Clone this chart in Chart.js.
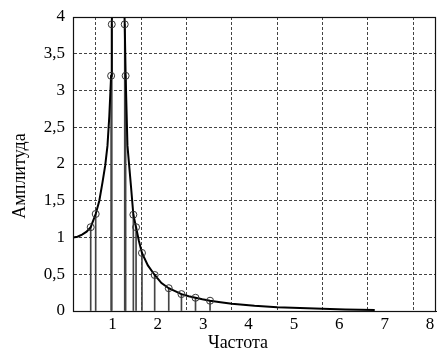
<!DOCTYPE html>
<html>
<head>
<meta charset="utf-8">
<script src="https://cdn.jsdelivr.net/npm/chart.js@4"></script>
<style>
html, body { margin: 0; padding: 0; background: #fff; }
</style>
</head>
<body>
<canvas id="grafico" width="441" height="355"></canvas>
<script>
// Curva de amplitude
const curvaX = [0, 0.1, 0.2, 0.3, 0.39, 0.5, 0.58, 0.65, 0.71, 0.76, 0.8, 0.84, 0.855, 0.9, 1.0, 1.1, 1.14, 1.16, 1.2, 1.28, 1.33, 1.39, 1.45, 1.52, 1.65, 1.8, 1.95, 2.11, 2.25, 2.39, 2.55, 2.7, 2.85, 3.02, 3.25, 3.5, 3.75, 4.0, 4.5, 5.0, 5.5, 6.0, 6.65];
const curvaY = [1.0, 1.01, 1.04, 1.08, 1.14, 1.32, 1.5, 1.75, 1.98, 2.25, 2.65, 3.2, 3.9, 5.2, 9.0, 4.9, 3.9, 3.2, 2.25, 1.68, 1.31, 1.14, 0.96, 0.79, 0.62, 0.49, 0.38, 0.31, 0.27, 0.23, 0.2, 0.18, 0.16, 0.14, 0.12, 0.1, 0.085, 0.07, 0.05, 0.04, 0.03, 0.02, 0.015];

// Hastes com marcadores circulares
const hasteX = [0.39, 0.5, 0.84, 0.855, 1.14, 1.16, 1.33, 1.39, 1.52, 1.8, 2.11, 2.39, 2.7, 3.02];
const hasteY = [1.14, 1.32, 3.2, 3.9, 3.9, 3.2, 1.31, 1.14, 0.79, 0.49, 0.31, 0.23, 0.18, 0.14];

// Rótulos dos eixos
const rotulosX = ['', '1', '2', '3', '4', '5', '6', '7', '8'];
const rotulosY = ['0', '0,5', '1', '1,5', '2', '2,5', '3', '3,5', '4'];
const tituloX = 'Частота';
const tituloY = 'Амплитуда';

const fonte = "'Liberation Serif', 'Times New Roman', serif";

const curva = curvaX.map((x, i) => ({ x: x, y: curvaY[i] }));
const hastes = hasteX.map((x, i) => ({ x: x, y: hasteY[i] }));

// Moldura em volta da área do gráfico
const moldura = {
    id: 'moldura',
    afterDraw(chart) {
        const { ctx, chartArea: a } = chart;
        ctx.save();
        ctx.strokeStyle = '#111';
        ctx.lineWidth = 1.2;
        ctx.strokeRect(Math.round(a.left) + 0.5, Math.round(a.top) + 0.5,
            Math.round(a.right - a.left) - 1, Math.round(a.bottom - a.top));
        ctx.restore();
    }
};

// Títulos dos eixos, na posição do original
const titulos = {
    id: 'titulos',
    afterDraw(chart) {
        const ctx = chart.ctx;
        ctx.save();
        ctx.fillStyle = '#000';
        ctx.font = '18px ' + fonte;
        ctx.textAlign = 'center';
        ctx.textBaseline = 'middle';
        ctx.fillText(tituloX, 238, 343);
        ctx.translate(20, 176);
        ctx.rotate(-Math.PI / 2);
        ctx.fillText(tituloY, 0, 0);
        ctx.restore();
    }
};

const ctx = document.getElementById('grafico').getContext('2d');
new Chart(ctx, {
    data: {
        datasets: [
            {
                type: 'scatter',
                label: 'Marcadores',
                data: hastes,
                pointStyle: 'circle',
                pointRadius: 3.5,
                borderColor: '#333',
                backgroundColor: 'rgba(0,0,0,0)',
                borderWidth: 1,
                order: 0,
            },
            {
                type: 'line',
                label: 'Амплитуда',
                data: curva,
                borderColor: '#000',
                borderWidth: 2,
                pointRadius: 0,
                tension: 0,
                fill: false,
                order: 1,
            },
            {
                type: 'bar',
                label: 'Hastes',
                data: hastes,
                backgroundColor: '#444',
                barThickness: 1,
                grouped: false,
                order: 2,
            },
        ],
    },
    options: {
        responsive: false,
        animation: false,
        devicePixelRatio: 1,
        layout: { padding: { top: 17, right: 0, left: 0, bottom: 0 } },
        plugins: {
            legend: { display: false },
            tooltip: { enabled: false },
        },
        scales: {
            x: {
                type: 'linear',
                min: 0,
                max: 8,
                offset: false,
                ticks: {
                    stepSize: 1,
                    padding: 3,
                    labelOffset: -6,
                    maxRotation: 0,
                    color: '#000',
                    font: { family: fonte, size: 17 },
                    callback: (v) => rotulosX[Math.round(v)],
                },
                grid: { color: '#444', lineWidth: 1, drawTicks: false },
                border: { dash: [3, 2], color: '#111' },
                afterFit(s) {
                    s.height = 44;
                    s.paddingLeft = 0;
                    s.paddingRight = 0;
                },
            },
            y: {
                min: 0,
                max: 4,
                ticks: {
                    stepSize: 0.5,
                    padding: 8,
                    color: '#000',
                    font: { family: fonte, size: 17 },
                    callback: (v) => rotulosY[Math.round(v * 2)],
                },
                grid: { color: '#444', lineWidth: 1, drawTicks: false },
                border: { dash: [3, 2], color: '#111' },
                afterFit(s) {
                    s.width = 73;
                    s.paddingTop = 0;
                    s.paddingBottom = 0;
                },
            },
        },
    },
    plugins: [moldura, titulos],
});
</script>
</body>
</html>
